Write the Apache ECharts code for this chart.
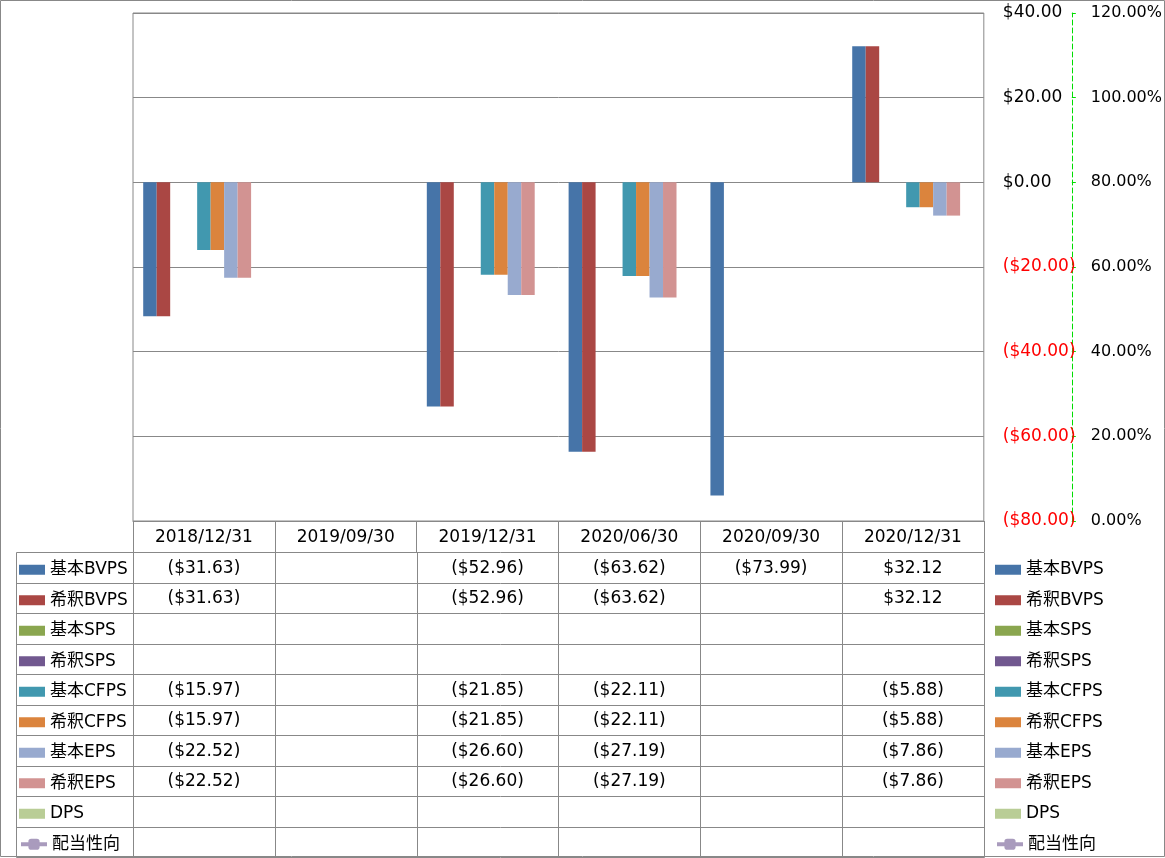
<!DOCTYPE html>
<html>
<head>
<meta charset="utf-8">
<script src="https://cdn.jsdelivr.net/npm/echarts@6/dist/echarts.min.js"></script>
<style>
  html, body { margin: 0; padding: 0; background: #fff; }
  #chart { width: 1165px; height: 858px; }
</style>
</head>
<body>
<div id="chart"></div>
<script>
const categories = ['2018/12/31', '2019/09/30', '2019/12/31', '2020/06/30', '2020/09/30', '2020/12/31'];
const seriesNames = ['基本BVPS', '希釈BVPS', '基本SPS', '希釈SPS', '基本CFPS', '希釈CFPS', '基本EPS', '希釈EPS', 'DPS', '配当性向'];
const basicBVPS = [-31.63, null, -52.96, -63.62, -73.99, 32.12];
const dilutedBVPS = [-31.63, null, -52.96, -63.62, null, 32.12];
const basicSPS = [null, null, null, null, null, null];
const dilutedSPS = [null, null, null, null, null, null];
const basicCFPS = [-15.97, null, -21.85, -22.11, null, -5.88];
const dilutedCFPS = [-15.97, null, -21.85, -22.11, null, -5.88];
const basicEPS = [-22.52, null, -26.60, -27.19, null, -7.86];
const dilutedEPS = [-22.52, null, -26.60, -27.19, null, -7.86];
const dps = [null, null, null, null, null, null];
const payoutRatio = [null, null, null, null, null, null];
const colors = ['#4674A8', '#AA4744', '#8AA64F', '#71588F', '#4198AF', '#DB843D', '#98AACF', '#D29392', '#B9CD96', '#A99BBD'];

const allData = [basicBVPS, dilutedBVPS, basicSPS, dilutedSPS, basicCFPS, dilutedCFPS, basicEPS, dilutedEPS, dps, payoutRatio];

const font = "'DejaVu Sans', 'Noto Sans CJK JP', sans-serif";
const lineGray = '#888888';
const rowTop = 552;
const rowH = 30.5;
const tableLeft = 16;
const legendShift = 2.5;

function money(v) {
    return v < 0 ? '($' + Math.abs(v).toFixed(2) + ')' : '$' + v.toFixed(2);
}

const chart = echarts.init(document.getElementById('chart'));

const series = seriesNames.map((name, i) => {
    if (i === 9) {
        return {
            name, type: 'line', yAxisIndex: 1, data: payoutRatio,
            symbol: 'roundRect', symbolSize: 14,
            lineStyle: { color: colors[i], width: 4 },
            itemStyle: { color: colors[i] }
        };
    }
    return {
        name, type: 'bar', data: allData[i],
        barGap: 0, barCategoryGap: '14.4%',
        itemStyle: { color: colors[i] }
    };
});

const barNames = seriesNames.slice(0, 9);
const lineName = seriesNames[9];

function barLegend(left) {
    return {
        orient: 'vertical',
        left, top: rowTop + legendShift, height: 300, padding: 0,
        itemWidth: 26, itemHeight: 10, itemGap: 0,
        selectedMode: false,
        textStyle: { fontFamily: font, fontSize: 17, color: '#000', lineHeight: rowH },
        data: barNames.map((name) => ({ name, icon: 'rect' }))
    };
}
function lineLegend(left) {
    return {
        orient: 'vertical',
        left, top: rowTop + rowH * 9 + legendShift, padding: 0,
        itemWidth: 26, itemHeight: 14, itemGap: 0,
        selectedMode: false,
        textStyle: { fontFamily: font, fontSize: 17, color: '#000', lineHeight: rowH },
        data: [{ name: lineName, lineStyle: { width: 4 } }]
    };
}

chart.setOption({
    animation: false,
    backgroundColor: '#fff',
    grid: {
        left: 133, top: 13, width: 852, height: 508,
        show: true, borderColor: lineGray, borderWidth: 1
    },
    legend: [barLegend(19), barLegend(995), lineLegend(19), lineLegend(995)],
    xAxis: {
        type: 'category',
        data: categories,
        position: 'bottom',
        axisLine: { onZero: false, lineStyle: { color: lineGray } },
        axisTick: { show: true, interval: 0, length: 31, lineStyle: { color: lineGray } },
        axisLabel: { fontFamily: font, fontSize: 17, color: '#000', margin: 8, interval: 0 },
        splitLine: { show: false }
    },
    yAxis: [
        {
            type: 'value', position: 'right', min: -80, max: 40, interval: 20,
            axisLine: { show: false }, axisTick: { show: false },
            splitLine: { lineStyle: { color: lineGray } },
            axisLabel: {
                fontFamily: font, fontSize: 17, margin: 19, align: 'left',
                formatter: money,
                color: (v) => (Number(v) < 0 ? '#ff0000' : '#000')
            }
        },
        {
            type: 'value', position: 'right', offset: 88, min: 0, max: 1.2, interval: 0.2,
            axisLine: { show: true, lineStyle: { color: '#00dd00', type: [5, 3] } },
            axisTick: { show: true, length: 4, lineStyle: { color: '#00dd00' } },
            splitLine: { show: false },
            axisLabel: {
                fontFamily: font, fontSize: 16, margin: 19, align: 'left', color: '#000',
                formatter: (v) => (v * 100).toFixed(2) + '%'
            }
        }
    ],
    series
});

// data table under the plot, columns follow the category axis
const graphics = [];
const px = (x) => Math.round(x) + 0.5;
const colCenters = categories.map((c) => chart.convertToPixel({ xAxisIndex: 0 }, c));
const colW = colCenters.length > 1 ? colCenters[1] - colCenters[0] : 142;
const gridLeft = colCenters[0] - colW / 2;
const gridRight = colCenters[colCenters.length - 1] + colW / 2;
const tableBottom = rowTop + rowH * seriesNames.length;

for (let r = 0; r <= seriesNames.length; r++) {
    const y = px(rowTop + rowH * r);
    graphics.push({ type: 'line', shape: { x1: tableLeft + 0.5, y1: y, x2: px(gridRight), y2: y }, style: { stroke: lineGray, lineWidth: 1 }, silent: true });
}
graphics.push({ type: 'line', shape: { x1: tableLeft + 0.5, y1: px(rowTop), x2: tableLeft + 0.5, y2: px(tableBottom) }, style: { stroke: lineGray, lineWidth: 1 }, silent: true });
for (let c = 0; c <= categories.length; c++) {
    const x = px(gridLeft + colW * c);
    graphics.push({ type: 'line', shape: { x1: x, y1: px(rowTop), x2: x, y2: px(tableBottom) }, style: { stroke: lineGray, lineWidth: 1 }, silent: true });
}
allData.forEach((vals, r) => {
    vals.forEach((v, c) => {
        if (v === null) return;
        graphics.push({
            type: 'text', silent: true,
            x: colCenters[c], y: rowTop + rowH * (r + 0.5) + 1,
            style: { text: money(v), font: '17px ' + font, fill: '#000', align: 'center', verticalAlign: 'middle' }
        });
    });
});
// outer chart border
graphics.push({ type: 'rect', silent: true, shape: { x: 0.5, y: 0.5, width: 1164, height: 856 }, style: { fill: null, stroke: lineGray, lineWidth: 1 } });

chart.setOption({ graphic: graphics });
</script>
</body>
</html>
